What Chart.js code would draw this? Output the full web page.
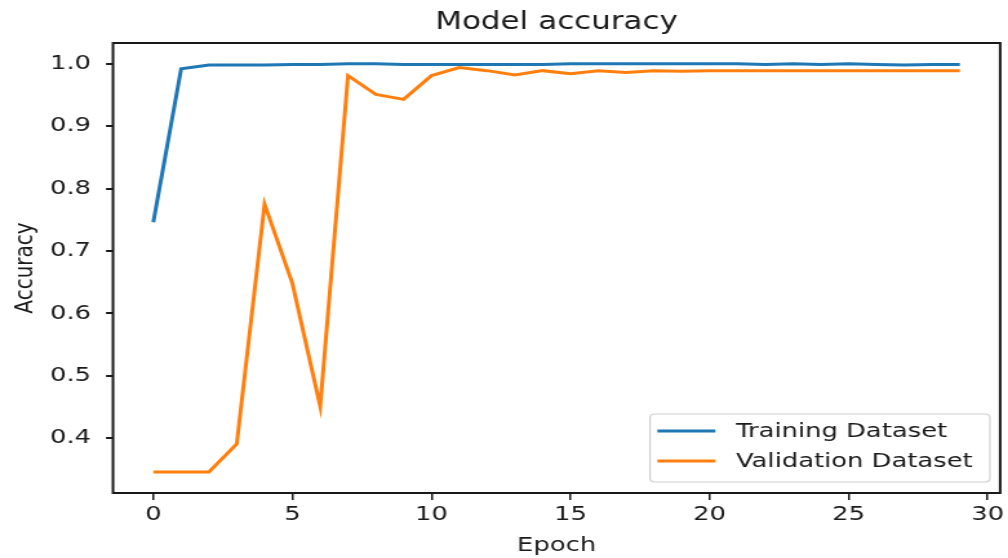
<!DOCTYPE html>
<html>
<head>
<meta charset="utf-8">
<script src="https://cdn.jsdelivr.net/npm/chart.js@4/dist/chart.umd.min.js"></script>
<style>
  html, body { margin: 0; padding: 0; background: #fff; overflow: hidden; }
  #wrap { position: absolute; left: 0; top: 0; width: 781px; height: 558px;
          transform: scaleX(1.2907); transform-origin: 0 0; }
</style>
</head>
<body>
<div id="wrap"><canvas id="c"></canvas></div>
<script>
// ---- data ----
const epochs = [0,1,2,3,4,5,6,7,8,9,10,11,12,13,14,15,16,17,18,19,20,21,22,23,24,25,26,27,28,29];
const trainingAcc = [0.746, 0.992, 0.998, 0.998, 0.998, 0.999, 0.999, 1.000, 1.000, 0.999,
                     0.999, 0.999, 0.999, 0.999, 0.999, 1.000, 1.000, 1.000, 1.000, 1.000,
                     1.000, 1.000, 0.999, 1.000, 0.999, 1.000, 0.999, 0.998, 0.999, 0.999];
const validationAcc = [0.346, 0.346, 0.346, 0.391, 0.775, 0.648, 0.451, 0.981, 0.951, 0.943,
                       0.981, 0.994, 0.989, 0.982, 0.989, 0.984, 0.989, 0.986, 0.989, 0.988,
                       0.989, 0.989, 0.989, 0.989, 0.989, 0.989, 0.989, 0.989, 0.989, 0.989];
const xTicks = [0, 5, 10, 15, 20, 25, 30];
const yTicks = [0.4, 0.5, 0.6, 0.7, 0.8, 0.9, 1.0];
const seriesLabels = ['Training Dataset', 'Validation Dataset'];
const chartTitle = 'Model accuracy';
const xTitle = 'Epoch';
const yTitle = 'Accuracy';

const FONT = 'DejaVu Sans';
const INK = '#1a1a1a';
const BLUE = '#1f77b4';
const ORANGE = '#ff7f0e';

const framePlugin = {
  id: 'frame',
  afterDatasetsDraw(chart) {
    const {ctx, chartArea: a} = chart;
    ctx.save();
    ctx.strokeStyle = INK;
    ctx.lineWidth = 2;
    ctx.strokeRect(a.left, a.top, a.right - a.left, a.bottom - a.top);
    // legend (matplotlib-style, lower right inside axes)
    const bx = 503.6, by = 414, bw = 767 - 503.6, bh = 68, r = 4;
    ctx.beginPath();
    ctx.moveTo(bx + r, by);
    ctx.lineTo(bx + bw - r, by);
    ctx.quadraticCurveTo(bx + bw, by, bx + bw, by + r);
    ctx.lineTo(bx + bw, by + bh - r);
    ctx.quadraticCurveTo(bx + bw, by + bh, bx + bw - r, by + bh);
    ctx.lineTo(bx + r, by + bh);
    ctx.quadraticCurveTo(bx, by + bh, bx, by + bh - r);
    ctx.lineTo(bx, by + r);
    ctx.quadraticCurveTo(bx, by, bx + r, by);
    ctx.closePath();
    ctx.fillStyle = 'rgba(255,255,255,0.8)';
    ctx.fill();
    ctx.strokeStyle = '#d0d0d0';
    ctx.lineWidth = 1.2;
    ctx.stroke();
    const rows = [431, 461];
    chart.data.datasets.forEach((ds, i) => {
      ctx.strokeStyle = ds.borderColor;
      ctx.lineWidth = 3;
      ctx.beginPath();
      ctx.moveTo(509.3, rows[i]);
      ctx.lineTo(554.3, rows[i]);
      ctx.stroke();
      ctx.fillStyle = INK;
      ctx.font = '20px "' + FONT + '"';
      ctx.textAlign = 'left';
      ctx.textBaseline = 'middle';
      ctx.fillText(ds.label, 570.2, rows[i] + 1);
    });
    ctx.restore();
  }
};

const chart = new Chart(document.getElementById('c'), {
  type: 'line',
  data: {
    datasets: [
      {
        label: seriesLabels[0],
        data: epochs.map((e, i) => ({x: e, y: trainingAcc[i]})),
        borderColor: BLUE, backgroundColor: BLUE,
        borderWidth: 3, pointRadius: 0, tension: 0, fill: false
      },
      {
        label: seriesLabels[1],
        data: epochs.map((e, i) => ({x: e, y: validationAcc[i]})),
        borderColor: ORANGE, backgroundColor: ORANGE,
        borderWidth: 3, pointRadius: 0, tension: 0, fill: false
      }
    ]
  },
  options: {
    responsive: true,
    maintainAspectRatio: false,
    animation: false,
    layout: { padding: { left: 0, right: 3.9, top: 0, bottom: 0 } },
    plugins: {
      legend: { display: false },
      tooltip: { enabled: false },
      title: {
        display: true,
        text: chartTitle,
        fullSize: false,
        color: INK,
        font: { family: FONT, size: 24, weight: 'normal', lineHeight: 1.2 },
        padding: { top: 8.4, bottom: 5.8 }
      }
    },
    scales: {
      x: {
        type: 'linear',
        min: -1.45, max: 30.45,
        afterBuildTicks: (s) => { s.ticks = xTicks.map(v => ({value: v})); },
        afterFit: (s) => { s.height = 65; },
        grid: { display: true, drawOnChartArea: false, drawTicks: true, tickLength: 7, color: INK, lineWidth: 1.5 },
        border: { display: false },
        ticks: { color: INK, font: { family: FONT, size: 20 }, padding: 3, maxRotation: 0, autoSkip: false },
        title: { display: true, text: xTitle, color: INK, font: { family: FONT, size: 20, lineHeight: 1.2 }, padding: { top: 0, bottom: 0.5 } }
      },
      y: {
        type: 'linear',
        min: 0.3122, max: 1.0333,
        afterBuildTicks: (s) => { s.ticks = yTicks.map(v => ({value: v})); },
        afterFit: (s) => { s.width = 87.55; },
        grid: { display: true, drawOnChartArea: false, drawTicks: true, tickLength: 5.4, color: INK, lineWidth: 2 },
        border: { display: false },
        ticks: { color: INK, font: { family: FONT, size: 20 }, padding: 11.6, callback: (v) => Number(v).toFixed(1) },
        title: { display: true, text: yTitle, color: INK, font: { family: FONT, size: 20, lineHeight: 1.2 }, padding: { top: 7.4, bottom: 0 } }
      }
    }
  },
  plugins: [framePlugin]
});
</script>
</body>
</html>
